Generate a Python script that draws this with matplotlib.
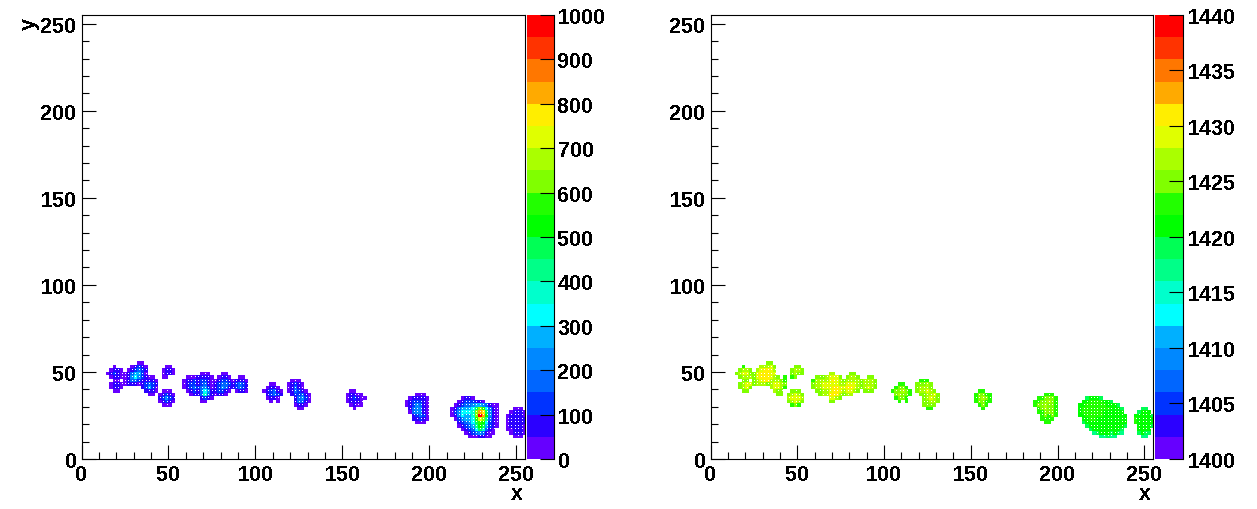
import numpy as np
import matplotlib
matplotlib.use("Agg")
import matplotlib.pyplot as plt
from matplotlib.colors import ListedColormap, BoundaryNorm
from matplotlib.ticker import MultipleLocator

plt.rcParams['font.family'] = ['Liberation Sans', 'DejaVu Sans']
plt.rcParams['font.weight'] = 'bold'
plt.rcParams['text.antialiased'] = False

W, H = 1257, 510
palette = ['#6600ff', '#2b00ff', '#0033ff', '#0066ff', '#0088ff', '#00b0ff', '#00ffff', '#00ffcc',
           '#00ff88', '#00ff55', '#00ff00', '#22ff00', '#80ff00', '#aaff00', '#e0ff00', '#ffee00',
           '#ffaa00', '#ff7700', '#ff3300', '#ff0000']
CODES = '0123456789abcdefghij'

# Each spot: (left x of first column, y of first row, rows of colour-level codes, top row first)
left_spots = [
    (14, 52, ["..0..", ".0110", "01210", ".0110"]),
    (16, 44, [".00.", "0110", "0110", ".00."]),
    (24, 54, ["....00.", "..01210", ".012321", "0135520", "0146421", "013321.", "01110.."]),
    (34, 46, [".000.", "01110", "12321", "12520", ".1110", "..00."]),
    (46, 52, [".00.", "0110", "0110", "00.."]),
    (44, 38, [".000.", "01210", "12421", "01210", ".000."]),
    (58, 46, [".0001.", "011211", "012211", "012321", ".0121.", "..01.."]),
    (64, 48, ["..000.", ".11110", "012210", "012310", "123420", ".13641", ".13731", "..1210", "..00.."]),
    (74, 48, ["...00..", "..0110.", ".012210", "0123320", "0124310", "012210.", ".0110.."]),
    (86, 46, ["..00.", "01110", "12321", "12321", ".0110"]),
    (104, 42, ["..00..", ".0110.", "012310", ".12321", ".0110.", "..0.0."]),
    (118, 44, [".000.", "01210", "01310", "01320", ".1210"]),
    (120, 38, ["..110.", ".12310", ".13420", ".13310", ".0110.", "..00.."]),
    (152, 38, [".00..", "01100", "012100", "01110", ".0100", "..0.."]),
    (186, 36, ["...000.", ".011110", "0122210", "0124310", ".134410", ".034410", "..12320", "..11210", "...000."]),
    (212, 34, ["...0110.......", "..01222110....", ".0123345543100",
               "01355569cb6310", "0246667cgf9410", "0146557cjga410",
               ".024556bec8310", "..123469ba6210", "..012358a95210",
               "...0123697310.", "....012343100.", ".....0001100.."]),
    (244, 28, ["..000.", ".01110", "011110", "011111", "011111", "011110", "001110", ".01110", "..000."]),
]

right_spots = [
    (14, 52, ["..b..", ".cddc", "cdeec", ".cddd"]),
    (16, 44, [".cc.", "cdee", "cdec", ".cc."]),
    (24, 54, ["....cc.", "..dddec", ".deffed", "cefffee", "cefffed", "cdeffd.", "cdddc.."]),
    (34, 46, [".cc.b", "cddcb", "deedc", "deedb", ".dcc.", "..cc."]),
    (46, 52, [".cc.", "cddc", "cdcc", "bc.."]),
    (44, 38, [".ccc.", "cdedc", "deeed", "cdedc", ".bcb."]),
    (58, 46, [".cccd.", "bdddde", "cddeed", "cddeee", ".ccdde", "..cd.."]),
    (64, 48, ["..dd..", ".deeec", "cdefed", "cdeeed", "cdeffe", ".deffe", ".dfffd", "..eedc", "..cc.."]),
    (74, 48, ["...cc..", "..cddc.", "bcddddc", "cdeeedc", "ceffedc", "cdeedc.", ".cdd..."]),
    (86, 46, ["..cc.", "cdddc", "cdddc", "cdedc", ".ccc."]),
    (104, 42, ["..bb..", ".bccb.", "bccdcb", ".cdccb", ".bccb.", "..b.b."]),
    (118, 44, [".bbb.", "cccdc", "cdddc", "cddec", ".ccdc"]),
    (120, 38, ["..cdc.", ".cddec", ".cdedc", ".ccddc", ".cccc.", "..bb.."]),
    (152, 38, [".bb..", "bccbb", "bcdcb", "bccbb", ".bcb.", "..b.."]),
    (186, 36, ["...bbb.", ".bbcccb", "bbccdcb", "bccdccb", ".bcdccb", ".bbcccb", "..bcbcb", "..bbbb.", "...bb.."]),
    (212, 34, ["..9aaa9.......", ".aabbbbaa9....", "aabbbbbbaaa9..", "abbbbbbbbaaa9.",
               "abbbbbbaaaaaa.", "aabbbbbaaaaaaa", ".aabbaaaaaaaaa", ".9aaaaaaaaaaaa",
               "..9aaaaaaaaaa9", "...9aaaaaaaa9.", "....89aaa9a98.", "......88988..."]),
    (244, 28, ["..99..", ".9aaa.", "aaaaa9", "baaaaa", "baaaaa", ".aaaa9", ".aaaa", ".9a99", "..88.."]),
]

left_zrange = (0, 1000)
right_zrange = (1400, 1440)
left_zticks = [0, 100, 200, 300, 400, 500, 600, 700, 800, 900, 1000]
right_zticks = [1400, 1405, 1410, 1415, 1420, 1425, 1430, 1435, 1440]
axis_ticks = [0, 50, 100, 150, 200, 250]
AXIS_MAX = 255
CELL = 2
NCELL = 128
LEVELS = len(CODES)

cmap = ListedColormap(palette)
norm = BoundaryNorm(np.arange(LEVELS + 1), LEVELS)

fig = plt.figure(figsize=(W / 100, H / 100), dpi=100)


def axes_px(x0, y0, x1, y1):
    return fig.add_axes([x0 / W, 1 - y1 / H, (x1 - x0) / W, (y1 - y0) / H])


def grid_from(spots):
    g = np.full((NCELL, NCELL), -1)
    for x0, ytop, rows in spots:
        for r, row in enumerate(rows):
            for c, ch in enumerate(row):
                if ch == '.':
                    continue
                i = (x0 + c * CELL) // CELL
                j = (ytop - r * CELL) // CELL
                if i < NCELL:
                    g[j, i] = max(g[j, i], CODES.index(ch))
    return g


def panel(frame, bar, spots, zrange, zticks):
    ax = axes_px(*frame)
    g = grid_from(spots)
    edges = np.arange(NCELL + 1) * CELL
    ax.pcolormesh(edges, edges, np.ma.masked_less(g, 0), cmap=cmap, norm=norm,
                  antialiased=False, linewidth=0)
    f = (g >= 0).astype(int)
    neighbours = np.zeros_like(f)
    neighbours[1:-1, 1:-1] = f[:-2, 1:-1] + f[2:, 1:-1] + f[1:-1, :-2] + f[1:-1, 2:]
    jj, ii = np.nonzero((f == 1) & (neighbours >= 3))
    ax.plot((ii + 0.5) * CELL, (jj + 0.5) * CELL, ',', color='white')
    ax.set_xlim(0, AXIS_MAX)
    ax.set_ylim(0, AXIS_MAX)
    for axis in (ax.xaxis, ax.yaxis):
        axis.set_minor_locator(MultipleLocator(10))
    ax.set_xticks(axis_ticks)
    ax.set_yticks(axis_ticks)
    ax.tick_params(which='major', direction='in', length=10, width=0.8, labelsize=15.5, pad=3.5)
    ax.tick_params(which='minor', direction='in', length=5, width=0.8)
    for s in ax.spines.values():
        s.set_linewidth(0.8)
    ax.set_xlabel('x', fontsize=15.5, fontweight='bold', ha='right')
    ax.xaxis.set_label_coords((frame[2] - 2 - frame[0]) / (frame[2] - frame[0]),
                              -(505 - 460) / (frame[3] - frame[1]))
    ax.xaxis.label.set_va('bottom')
    ax.set_ylabel('y', fontsize=15.5, fontweight='bold', ha='right', rotation=90)
    ax.yaxis.set_label_coords(-(frame[0] - 40) / (frame[2] - frame[0]), 1.0 - 2 / 444)
    ax.yaxis.label.set_va('bottom')

    cb = axes_px(*bar)
    bounds = np.linspace(zrange[0], zrange[1], LEVELS + 1)
    cb.pcolormesh([0, 1], bounds, np.arange(LEVELS).reshape(-1, 1), cmap=cmap, norm=norm, antialiased=False)
    cb.set_xlim(0, 1)
    cb.set_ylim(*zrange)
    cb.set_xticks([])
    cb.yaxis.tick_right()
    cb.set_yticks(zticks)
    cb.tick_params(axis='y', direction='in', length=10, width=0.8, labelsize=15.5, pad=3, zorder=5)
    for name, s in cb.spines.items():
        s.set_visible(name == 'right')
        s.set_linewidth(0.8)


panel((81.5, 16, 525, 460), (527, 16, 553.5, 460), left_spots, left_zrange, left_zticks)
panel((710.5, 16, 1153, 460), (1155, 16, 1183, 460), right_spots, right_zrange, right_zticks)

fig.savefig('out.png', dpi=100)
